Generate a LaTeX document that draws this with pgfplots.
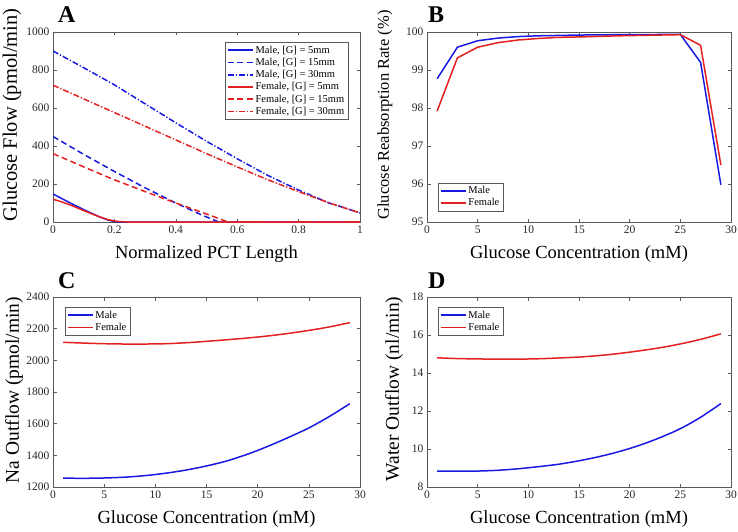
\documentclass[border=0pt]{standalone}
\usepackage{fontspec}
\setmainfont{Liberation Serif}
\usepackage{pgfplots}
\pgfplotsset{compat=1.18}
\definecolor{mblue}{RGB}{25,25,225}
\definecolor{mred}{RGB}{228,32,32}
\definecolor{axgray}{RGB}{90,90,90}
\pgfplotsset{
  legend image code/.code={\draw[line width=1.8pt] (0pt,0pt) -- (25pt,0pt);},
}
\pgfplotsset{
  panel/.style={
    scale only axis, width=307pt, height=190pt,
    axis line style={axgray, line width=0.7pt},
    tick style={axgray, line width=0.6pt},
    tick align=inside, major tick length=3.5pt,
    ticklabel style={font=\fontsize{11.5}{12}\selectfont, text=black!85},
    /pgf/number format/assume math mode=true,
    /pgf/number format/1000 sep={},
    label style={font=\fontsize{18.5}{20}\selectfont},
    xlabel style={at={(axis description cs:0.5,0)}, anchor=base, yshift=-36pt},
    legend style={font=\fontsize{10.5}{11}\selectfont, draw=axgray, inner sep=1.5pt, row sep=-0.5pt},
    legend cell align=left,
  },
  mdash/.style={dash pattern=on 6pt off 3.5pt},
  mdashdot/.style={dash pattern=on 6pt off 2pt on 1.2pt off 2pt},
}
\begin{document}
\begin{tikzpicture}
\path[use as bounding box] (0pt,0pt) rectangle (738pt,531pt);
% ---------------- A ----------------
\begin{axis}[panel, at={(53pt,309pt)}, anchor=south west,
  xmin=0, xmax=1, ymin=0, ymax=1000,
  xtick={0,0.2,0.4,0.6,0.8,1}, ytick={0,200,400,600,800,1000},
  xticklabels={0,0.2,0.4,0.6,0.8,1},
  xlabel={Normalized PCT Length},
  ylabel={Glucose Flow (pmol/min)},
  ylabel style={font=\fontsize{20.5}{22}\selectfont, at={(axis description cs:0,0.5)}, anchor=center, yshift=41pt, xshift=12pt},
  legend style={at={(axis description cs:0.961,0.947)}, anchor=north east},
]
\addplot[color=mblue, line width=1.5pt] coordinates {(0,148) (0.03,122) (0.06,97) (0.09,73) (0.12,50) (0.15,28) (0.18,10) (0.2,2) (0.22,0) (1,0)};
\addlegendentry{Male, [G] = 5mm}
\addplot[color=mblue, line width=1.5pt, mdash] coordinates {(0,450) (0.1,356) (0.2,266) (0.3,180) (0.4,100) (0.48,40) (0.54,0) (1,0)};
\addlegendentry{Male, [G] = 15mm}
\addplot[color=mblue, line width=1.5pt, mdashdot] coordinates {(0,900) (0.1,812) (0.2,722) (0.3,622) (0.4,522) (0.5,425) (0.6,333) (0.7,245) (0.8,168) (0.9,100) (1,48)};
\addlegendentry{Male, [G] = 30mm}
\addplot[color=mred, line width=1.5pt] coordinates {(0,120) (0.03,105) (0.06,87) (0.09,67) (0.12,47) (0.15,28) (0.18,12) (0.21,3) (0.24,0) (1,0)};
\addlegendentry{Female, [G] = 5mm}
\addplot[color=mred, line width=1.5pt, mdash] coordinates {(0,360) (0.1,290) (0.2,222) (0.3,160) (0.4,100) (0.5,42) (0.57,0) (1,0)};
\addlegendentry{Female, [G] = 15mm}
\addplot[color=mred, line width=1.5pt, mdashdot] coordinates {(0,720) (0.1,648) (0.2,576) (0.3,504) (0.4,432) (0.5,360) (0.6,290) (0.7,222) (0.8,160) (0.9,100) (1,48)};
\addlegendentry{Female, [G] = 30mm}
\end{axis}
\node[anchor=base west, font=\fontsize{24}{26}\selectfont\bfseries, inner sep=0pt] at (58pt,508pt) {A};
% ---------------- B ----------------
\begin{axis}[panel, width=304pt, at={(427pt,309pt)}, anchor=south west,
  xmin=0, xmax=30, ymin=95, ymax=100,
  xtick={0,5,10,15,20,25,30}, ytick={95,96,97,98,99,100},
  xlabel={Glucose Concentration (mM)},
  ylabel={Glucose Reabsorption Rate (\%)},
  ylabel style={font=\fontsize{16.5}{18}\selectfont, at={(axis description cs:0,0.5)}, anchor=center, yshift=42pt, xshift=12pt},
  legend style={at={(axis description cs:0.036,0.058)}, anchor=south west},
]
\addplot[color=mblue, line width=1.5pt] coordinates {(1,98.77) (3,99.6) (5,99.77) (7,99.84) (9,99.88) (11,99.9) (13,99.91) (15,99.92) (17,99.925) (19,99.93) (21,99.93) (23,99.935) (25,99.935) (27,99.2) (29,95.98)};
\addlegendentry{Male}
\addplot[color=mred, line width=1.5pt] coordinates {(1,97.92) (3,99.32) (5,99.6) (7,99.72) (9,99.79) (11,99.83) (13,99.86) (15,99.87) (17,99.885) (19,99.9) (21,99.91) (23,99.92) (25,99.93) (27,99.65) (29,96.5)};
\addlegendentry{Female}
\end{axis}
\node[anchor=base west, font=\fontsize{24}{26}\selectfont\bfseries, inner sep=0pt] at (428pt,508pt) {B};
% ---------------- C ----------------
\begin{axis}[panel, at={(53pt,44pt)}, anchor=south west,
  xmin=0, xmax=30, ymin=1200, ymax=2400,
  xtick={0,5,10,15,20,25,30}, ytick={1200,1400,1600,1800,2000,2200,2400},
  xlabel={Glucose Concentration (mM)},
  ylabel={Na Outflow (pmol/min)},
  ylabel style={font=\fontsize{19.5}{21}\selectfont, at={(axis description cs:0,0.5)}, anchor=center, yshift=39pt, xshift=2pt},
  legend style={at={(axis description cs:0.039,0.947)}, anchor=north west},
]
\addplot[color=mblue, line width=1.5pt, smooth] coordinates {(1,1256) (3,1255) (5,1257) (7,1262) (9,1272) (11,1287) (13,1307) (15,1333) (17,1365) (19,1407) (21,1457) (23,1513) (25,1573) (27,1645) (29,1726)};
\addlegendentry{Male}
\addplot[color=mred, line width=1.5pt, smooth] coordinates {(1,2114) (3,2109) (5,2105) (7,2103) (9,2103) (11,2105) (13,2111) (15,2120) (17,2130) (19,2141) (21,2154) (23,2170) (25,2189) (27,2211) (29,2238)};
\addlegendentry{Female}
\end{axis}
\node[anchor=base west, font=\fontsize{24}{26}\selectfont\bfseries, inner sep=0pt] at (58pt,243pt) {C};
% ---------------- D ----------------
\begin{axis}[panel, width=304pt, at={(427pt,44pt)}, anchor=south west,
  xmin=0, xmax=30, ymin=8, ymax=18,
  xtick={0,5,10,15,20,25,30}, ytick={8,10,12,14,16,18},
  xlabel={Glucose Concentration (mM)},
  ylabel={Water Outflow (nl/min)},
  ylabel style={font=\fontsize{19.5}{21}\selectfont, at={(axis description cs:0,0.5)}, anchor=center, yshift=33pt, xshift=3pt},
  legend style={at={(axis description cs:0.036,0.947)}, anchor=north west},
]
\addplot[color=mblue, line width=1.5pt, smooth] coordinates {(1,8.83) (3,8.83) (5,8.84) (7,8.88) (9,8.96) (11,9.07) (13,9.2) (15,9.38) (17,9.6) (19,9.87) (21,10.2) (23,10.6) (25,11.07) (27,11.67) (29,12.39)};
\addlegendentry{Male}
\addplot[color=mred, line width=1.5pt, smooth] coordinates {(1,14.8) (3,14.76) (5,14.74) (7,14.73) (9,14.73) (11,14.75) (13,14.79) (15,14.84) (17,14.92) (19,15.03) (21,15.17) (23,15.33) (25,15.53) (27,15.77) (29,16.06)};
\addlegendentry{Female}
\end{axis}
\node[anchor=base west, font=\fontsize{24}{26}\selectfont\bfseries, inner sep=0pt] at (428pt,243pt) {D};
\end{tikzpicture}
\end{document}
